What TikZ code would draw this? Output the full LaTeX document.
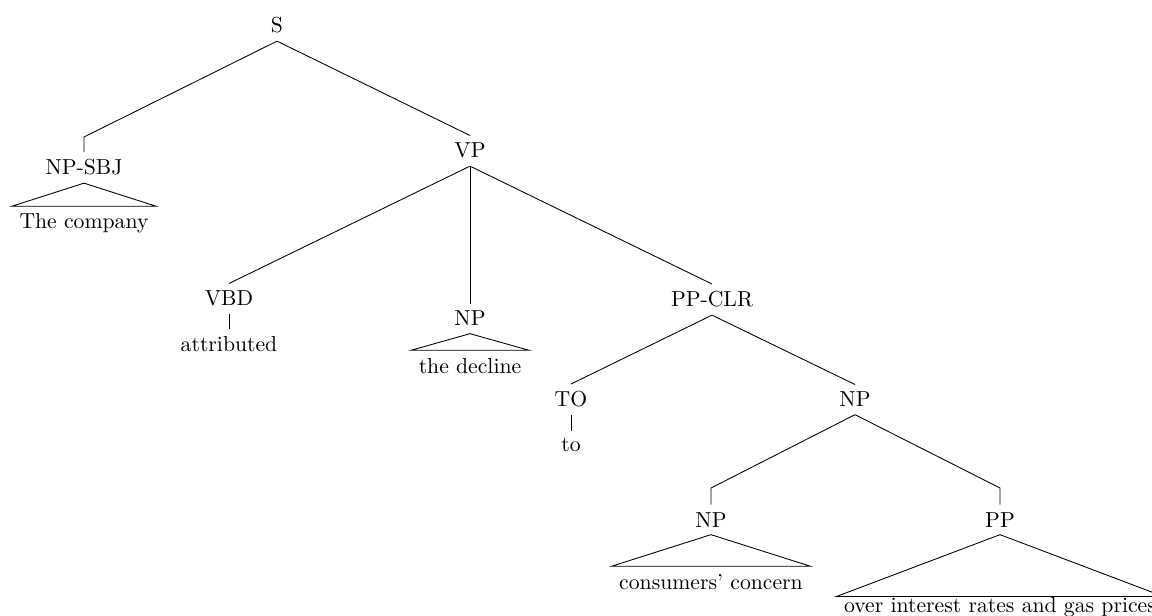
\documentclass[tikz,border=0pt]{standalone}
\begin{document}
\begin{tikzpicture}[x=0.4608pt,y=-0.4608pt,
  cat/.style={anchor=base},
  word/.style={anchor=base},
  tightword/.style={anchor=base,inner ysep=0pt},
  branch/.style={line width=0.4pt},
  roof/.style={line width=0.4pt}]
\useasboundingbox (0,0) rectangle (1152,616);
\clip (0,0) rectangle (1152,616);

% category labels
\node[cat] (s)     at (277,33)  {S};
\node[cat] (npsbj) at (84,175)  {NP-SBJ};
\node[cat] (vp)    at (470,158) {VP};
\node[cat] (vbd)   at (229,306) {VBD};
\node[cat] (npd)   at (470,326) {NP};
\node[cat] (ppclr) at (712,307) {PP-CLR};
\node[cat] (to)    at (571,407) {TO};
\node[cat] (npr)   at (855,407) {NP};
\node[cat] (npc)   at (711,527) {NP};
\node[cat] (pp)    at (1000,527) {PP};

% words
\node[word] (wcomp) at (84,229)  {The company};
\node[word] (wattr) at (229,352) {attributed};
\node[word] (wdecl) at (470,373) {the decline};
\node[word] (wto)   at (571,452) {to};
\node[word] (wcons) at (711,589) {consumers' concern};
\node[tightword] (wover) at (1000,612) {over interest rates and gas prices};

% bends above lowered roofs
\coordinate (k1) at (84,137);
\coordinate (k2) at (711,488);
\coordinate (k3) at (1000,488);

% branches
\draw[branch] (s.south) -- (k1) -- (npsbj.north);
\draw[branch] (s.south) -- (vp.north);
\draw[branch] (vp.south) -- (vbd.north);
\draw[branch] (vp.south) -- (npd.north);
\draw[branch] (vp.south) -- (ppclr.north);
\draw[branch] (vbd.south) -- (wattr.north);
\draw[branch] (ppclr.south) -- (to.north);
\draw[branch] (ppclr.south) -- (npr.north);
\draw[branch] (to.south) -- (wto.north);
\draw[branch] (npr.south) -- (k2) -- (npc.north);
\draw[branch] (npr.south) -- (k3) -- (pp.north);

% roofs
\draw[roof] (npsbj.south) -- (wcomp.north west) -- (wcomp.north east) -- cycle;
\draw[roof] (npd.south) -- (wdecl.north west) -- (wdecl.north east) -- cycle;
\draw[roof] (npc.south) -- (wcons.north west) -- (wcons.north east) -- cycle;
\draw[roof] (pp.south) -- (wover.north west) -- (wover.north east) -- cycle;
\end{tikzpicture}
\end{document}
